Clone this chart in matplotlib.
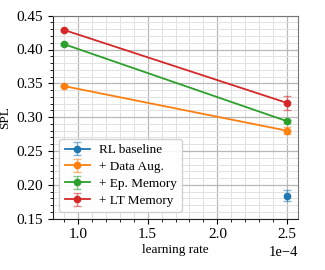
import matplotlib
matplotlib.use("Agg")
import matplotlib.pyplot as plt
from matplotlib.ticker import MultipleLocator

plt.rcParams['font.family'] = ['Liberation Serif', 'DejaVu Serif']
plt.rcParams['mathtext.fontset'] = 'dejavuserif'

# learning rates
lr_both = [0.9e-4, 2.5e-4]
lr_base = [2.5e-4]

labels = ['RL baseline', '+ Data Aug.', '+ Ep. Memory', '+ LT Memory']
colors = ['#1f77b4', '#ff7f0e', '#2ca02c', '#d62728']

spl_base = [0.184]
err_base = [0.0085]
spl_aug = [0.346, 0.280]
err_aug = [0.002, 0.005]
spl_ep = [0.408, 0.294]
err_ep = [0.001, 0.002]
spl_lt = [0.429, 0.321]
err_lt = [0.002, 0.0105]

series = [(lr_base, spl_base, err_base), (lr_both, spl_aug, err_aug),
          (lr_both, spl_ep, err_ep), (lr_both, spl_lt, err_lt)]

fig, ax = plt.subplots(figsize=(3.25, 2.7), dpi=100)
fig.subplots_adjust(left=0.162, right=0.918, top=0.942, bottom=0.19)

for (x, y, e), lab, c in zip(series, labels, colors):
    cont = ax.errorbar(x, y, yerr=e, color=c, marker='o', ms=4.5, lw=1.3,
                       capsize=3, elinewidth=1.0, label=lab, zorder=3)
    for art in cont[1] + cont[2]:
        art.set_alpha(0.55)

ax.set_ylim(0.15, 0.45)
ax.xaxis.set_major_locator(MultipleLocator(0.5e-4))
ax.xaxis.set_minor_locator(MultipleLocator(0.1e-4))
ax.yaxis.set_major_locator(MultipleLocator(0.05))
ax.yaxis.set_minor_locator(MultipleLocator(0.01))
ax.ticklabel_format(axis='x', style='sci', scilimits=(0, 0))
ax.xaxis.get_offset_text().set_fontsize(10.5)

ax.grid(which='major', color='#b8b8b8', lw=0.9, zorder=0)
ax.grid(which='minor', color='#e2e2e2', lw=0.7, zorder=0)
ax.set_axisbelow(True)
ax.tick_params(which='major', labelsize=11, length=3.5, width=0.8)
ax.tick_params(which='minor', length=2, width=0.6)
for s in ['top', 'right']:
    ax.spines[s].set_color('#777777')
for s in ['left', 'bottom']:
    ax.spines[s].set_color('#222222')

ax.set_xlabel('learning rate', fontsize=9.5, labelpad=2)
ax.set_ylabel('SPL', fontsize=9.5)
ax.legend(loc='lower left', fontsize=9.5, framealpha=0.9, handlelength=1.9,
          handletextpad=0.7, borderpad=0.4, labelspacing=0.35)

fig.savefig('out.png', dpi=100)
